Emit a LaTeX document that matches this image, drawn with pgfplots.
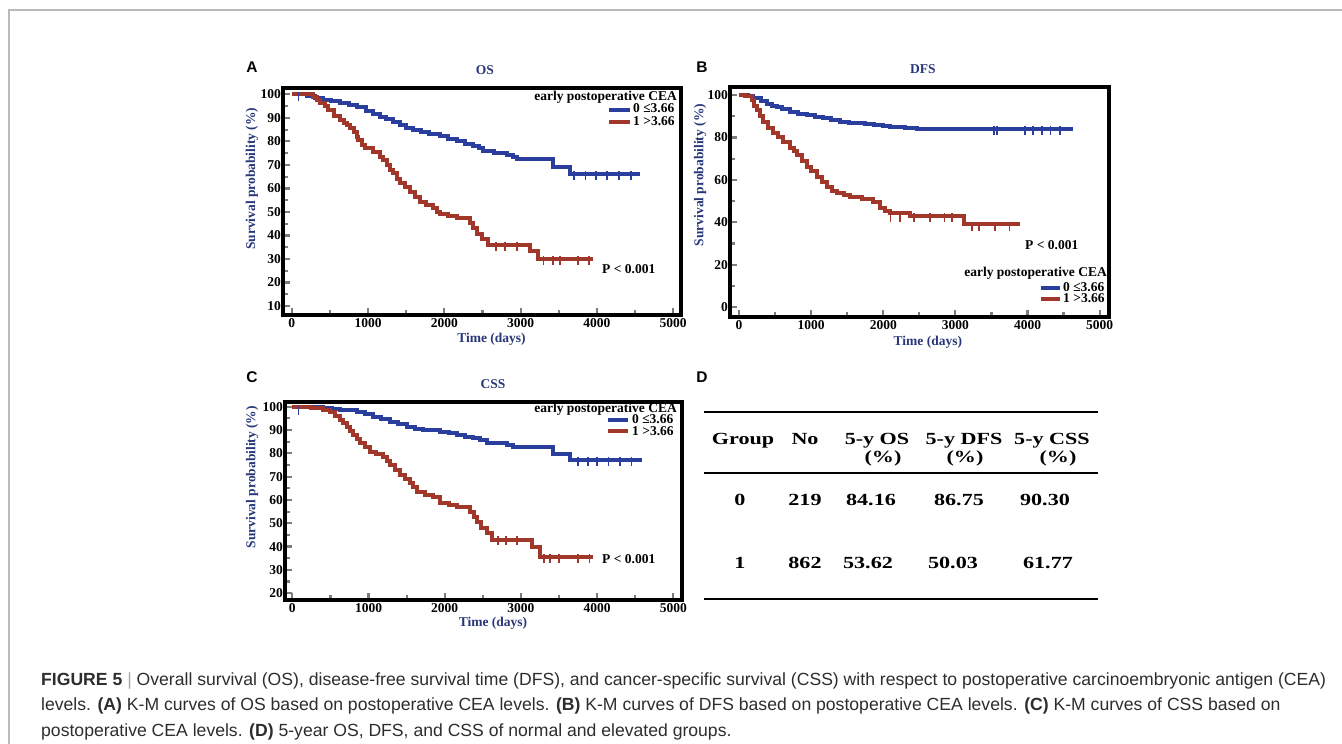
\documentclass[border=0pt]{standalone}
\usepackage{fontspec}
\setmainfont{Liberation Serif}
\newfontfamily\sansf{Liberation Sans}
\newfontfamily\tabf[FakeStretch=1.3]{Liberation Serif}
\usepackage{pgfplots}
\pgfplotsset{compat=1.18}
\definecolor{kmblue}{RGB}{42,62,158}
\definecolor{kmred}{RGB}{160,55,42}
\definecolor{navy}{RGB}{40,55,120}
\definecolor{tickgray}{RGB}{125,125,125}
\definecolor{capgray}{RGB}{45,45,45}
\pgfplotsset{kmaxis/.style={
  scale only axis, anchor=south west,
  axis line style={line width=3.5pt, black},
  tick align=inside, tick pos=left,
  major tick length=7pt, minor tick length=5pt,
  tick style={line width=2.2pt, tickgray},
  xtick={0,1000,...,5000}, minor x tick num=1,
  /pgf/number format/1000 sep={},
  /pgf/number format/assume math mode=true,
  tick label style={font=\bfseries\fontsize{13.5}{15}\selectfont, black},
  yticklabel style={xshift=1.5pt},
  title style={font=\bfseries\fontsize{13.5}{15}\selectfont, color=navy, anchor=center},
  label style={font=\bfseries\fontsize{13.5}{15}\selectfont, color=navy},
  xlabel={Time (days)},
  ylabel={Survival probability (\%)},
},
km/.style={line width=4pt, const plot, mark=none},
cens/.style={only marks, mark=|, mark size=4.5pt, mark options={line width=1.8pt}},
}
\begin{document}
\begin{tikzpicture}
\useasboundingbox (0pt,0pt) rectangle (1342pt,744pt);
\draw[gray!55, line width=1.8pt] (9.3pt,0pt) -- (9.3pt,734pt) -- (1342pt,734pt);

% ---------------- Panel A: OS
\begin{axis}[kmaxis, at={(283pt,429pt)}, width=398pt, height=227pt,
  xmin=-114, xmax=5102, ymin=6.2, ymax=102.7,
  ytick={10,20,...,100}, minor y tick num=1,
  title={OS}, title style={at={(axis description cs:0.507,1)}, yshift=12pt},
  xlabel style={at={(axis description cs:0.524,0)}, anchor=center, yshift=-24pt},
  ylabel style={at={(axis description cs:-0.078,0.60)}, anchor=center}]
\addplot[km, kmblue] coordinates {(0,100) (200,99.5) (300,98.5) (415,97.5) (520,97) (630,96.2) (750,95.5) (850,94.5) (980,92.8) (1060,91.8) (1157,90.5) (1240,89.5) (1330,88.4) (1420,87) (1500,85.8) (1590,84.8) (1700,84) (1800,83.2) (1940,82.2) (2050,81) (2160,80) (2270,79) (2380,78) (2460,77) (2510,75.8) (2650,75.2) (2817,74.3) (2900,73.2) (2950,72.4) (3430,69.3) (3650,66) (4565,66)};
\addplot[km, kmred] coordinates {(0,100) (280,99) (330,97.5) (370,96.5) (430,95) (480,93.3) (560,91) (630,89.1) (680,88) (720,87) (770,85.5) (810,84.1) (850,82) (873,80.6) (920,78.5) (960,77) (1070,75.6) (1157,73.5) (1200,72) (1245,70) (1290,68) (1330,66.4) (1380,64) (1420,62.2) (1480,60.5) (1550,58.6) (1620,56.5) (1680,54.4) (1760,53) (1855,51.5) (1900,50) (1943,49.1) (2050,48.2) (2160,47.3) (2335,45.2) (2380,43) (2424,40.5) (2500,38.5) (2577,36) (3122,33.5) (3231,30) (3952,30)};
\addplot[cens, kmblue] coordinates {(90,99) (3700,65.5) (3850,65.5) (3990,65.5) (4130,65.5) (4290,65.5) (4450,65.5)};
\addplot[cens, kmred] coordinates {(2680,35.5) (2800,35.5) (2950,35.5) (3300,29.5) (3420,29.5) (3520,29.5) (3750,29.5) (3900,29.5)};
\end{axis}
\draw[kmblue, line width=3.5pt] (609pt,634pt) -- (630pt,634pt);
\draw[kmred, line width=3.5pt] (609pt,622pt) -- (630pt,622pt);
\node[anchor=base east, inner sep=0pt, font=\bfseries\fontsize{13.5}{15}\selectfont] at (677pt,643pt) {early postoperative CEA};
\node[anchor=base west, inner sep=0pt, font=\bfseries\fontsize{13.5}{15}\selectfont] at (633pt,631.5pt) {0 ≤3.66};
\node[anchor=base west, inner sep=0pt, font=\bfseries\fontsize{13.5}{15}\selectfont] at (633pt,618.5pt) {1 >3.66};
\node[anchor=base west, inner sep=0pt, font=\bfseries\fontsize{13.5}{15}\selectfont] at (602pt,470.5pt) {P < 0.001};
\node[anchor=base, inner sep=0pt, font=\sansf\bfseries\fontsize{15.5}{17}\selectfont] at (252pt,671pt) {A};

% ---------------- Panel B: DFS
\begin{axis}[kmaxis, at={(730pt,427pt)}, width=379pt, height=230pt,
  xmin=-125, xmax=5130, ymin=-4.6, ymax=103.8,
  ytick={0,20,...,100}, minor y tick num=1,
  title={DFS}, title style={at={(axis description cs:0.509,1)}, yshift=12pt},
  xlabel style={at={(axis description cs:0.522,0)}, anchor=center, yshift=-25pt},
  ylabel style={at={(axis description cs:-0.079,0.617)}, anchor=center}]
\addplot[km, kmblue] coordinates {(0,100) (120,99.5) (200,98.5) (300,97) (384,96) (460,95) (520,94.5) (600,93.5) (708,92.1) (820,91.2) (940,90.6) (1050,89.8) (1170,89) (1280,88.2) (1400,87.4) (1520,87) (1630,86.7) (1750,86.2) (1865,85.9) (2000,85.4) (2095,85.1) (2300,84.4) (2465,84) (4630,84)};
\addplot[km, kmred] coordinates {(0,100) (83,99.5) (175,97.6) (210,95) (245,92.9) (290,90) (338,87.4) (400,84.5) (476,81.9) (540,80) (615,78) (708,74.9) (760,73.5) (800,71.7) (870,69) (940,66.2) (1000,64) (1078,61.5) (1150,59) (1216,56.8) (1290,55) (1355,53.7) (1450,52.8) (1540,52.1) (1700,51) (1864,49.8) (1956,46.6) (2030,45.2) (2095,44.3) (2373,43) (3113,39) (3890,39)};
\addplot[cens, kmblue] coordinates {(3530,83.5) (3580,83.5) (3960,83.5) (4080,83.5) (4200,83.5) (4320,83.5) (4450,83.5)};
\addplot[cens, kmred] coordinates {(2100,42.5) (2230,42.5) (2430,42.5) (2650,42.5) (2850,42.5) (2950,42.5) (3230,38) (3330,38) (3550,38) (3750,38)};
\end{axis}
\draw[kmblue, line width=3.5pt] (1041pt,456pt) -- (1060pt,456pt);
\draw[kmred, line width=3.5pt] (1041pt,445pt) -- (1060pt,445pt);
\node[anchor=base east, inner sep=0pt, font=\bfseries\fontsize{13.5}{15}\selectfont] at (1107pt,467pt) {early postoperative CEA};
\node[anchor=base west, inner sep=0pt, font=\bfseries\fontsize{13.5}{15}\selectfont] at (1063pt,452.5pt) {0 ≤3.66};
\node[anchor=base west, inner sep=0pt, font=\bfseries\fontsize{13.5}{15}\selectfont] at (1063pt,441.5pt) {1 >3.66};
\node[anchor=base west, inner sep=0pt, font=\bfseries\fontsize{13.5}{15}\selectfont] at (1025pt,494.5pt) {P < 0.001};
\node[anchor=base, inner sep=0pt, font=\sansf\bfseries\fontsize{15.5}{17}\selectfont] at (702pt,671pt) {B};

% ---------------- Panel C: CSS
\begin{axis}[kmaxis, at={(285pt,144pt)}, width=397pt, height=198pt,
  xmin=-96, xmax=5114, ymin=17.1, ymax=102,
  ytick={20,30,...,100}, minor y tick num=1,
  title={CSS}, title style={at={(axis description cs:0.524,1)}, yshift=12pt},
  xlabel style={at={(axis description cs:0.524,0)}, anchor=center, yshift=-23pt},
  ylabel style={at={(axis description cs:-0.083,0.62)}, anchor=center}]
\addplot[km, kmblue] coordinates {(0,100) (400,99.5) (520,99) (625,98.6) (844,97.9) (950,96.8) (1063,95.7) (1170,94.6) (1282,93.6) (1390,92.5) (1500,91.4) (1610,90.5) (1719,90) (1938,89.3) (2050,88.5) (2156,87.9) (2270,87) (2375,86.4) (2460,85.5) (2550,84.5) (2812,83.6) (2900,82.5) (3425,79.5) (3643,77) (4584,77)};
\addplot[km, kmred] coordinates {(0,100) (250,99.5) (407,98.5) (494,97.5) (560,96) (625,94.3) (670,93) (713,91.4) (760,89.5) (800,87.9) (850,86) (888,84.3) (950,82.5) (1019,80.7) (1100,79.8) (1194,78.3) (1240,76.5) (1282,75) (1350,72.8) (1413,70.7) (1480,69) (1544,67.1) (1590,65.5) (1632,63.6) (1740,62.2) (1850,61.4) (1938,58.6) (2050,57.8) (2156,57.1) (2331,55) (2380,52.5) (2419,50.7) (2480,48) (2550,45.7) (2616,43) (3140,40) (3250,35.5) (3950,35.5)};
\addplot[cens, kmblue] coordinates {(80,98.5) (3750,76.5) (3880,76.5) (4000,76.5) (4150,76.5) (4300,76.5) (4450,76.5)};
\addplot[cens, kmred] coordinates {(2700,42.5) (2800,42.5) (2950,42.5) (3300,35) (3380,35) (3500,35) (3750,35) (3900,35)};
\end{axis}
\draw[kmblue, line width=3.5pt] (608pt,324pt) -- (628pt,324pt);
\draw[kmred, line width=3.5pt] (608pt,313pt) -- (628pt,313pt);
\node[anchor=base east, inner sep=0pt, font=\bfseries\fontsize{13.5}{15}\selectfont] at (677pt,331pt) {early postoperative CEA};
\node[anchor=base west, inner sep=0pt, font=\bfseries\fontsize{13.5}{15}\selectfont] at (632pt,320pt) {0 ≤3.66};
\node[anchor=base west, inner sep=0pt, font=\bfseries\fontsize{13.5}{15}\selectfont] at (632pt,308.5pt) {1 >3.66};
\node[anchor=base west, inner sep=0pt, font=\bfseries\fontsize{13.5}{15}\selectfont] at (602pt,180.5pt) {P < 0.001};
\node[anchor=base, inner sep=0pt, font=\sansf\bfseries\fontsize{15.5}{17}\selectfont] at (252pt,361pt) {C};

% ---------------- Panel D: table
\node[anchor=base, inner sep=0pt, font=\sansf\bfseries\fontsize{15.5}{17}\selectfont] at (702pt,361pt) {D};
\draw[black, line width=2.2pt] (704pt,332pt) -- (1098pt,332pt);
\draw[black, line width=2.2pt] (704pt,271pt) -- (1098pt,271pt);
\draw[black, line width=2.2pt] (704pt,145pt) -- (1098pt,145pt);
\begin{scope}[every node/.style={anchor=base, inner sep=0pt, font=\tabf\bfseries\fontsize{17}{19}\selectfont}]
\node at (743pt,299pt) {Group};
\node at (805pt,299pt) {No};
\node at (877pt,299pt) {5-y OS};
\node at (964pt,299pt) {5-y DFS};
\node at (1052pt,299pt) {5-y CSS};
\node at (883pt,281pt) {(\%)};
\node at (965pt,281pt) {(\%)};
\node at (1058pt,281pt) {(\%)};
\node at (740pt,238pt) {0};
\node at (805pt,238pt) {219};
\node at (871pt,238pt) {84.16};
\node at (959pt,238pt) {86.75};
\node at (1045pt,238pt) {90.30};
\node at (740pt,175pt) {1};
\node at (805pt,175pt) {862};
\node at (868pt,175pt) {53.62};
\node at (953pt,175pt) {50.03};
\node at (1048pt,175pt) {61.77};
\end{scope}

% ---------------- Caption
\begin{scope}[every node/.style={anchor=base west, inner sep=0pt, text=capgray, font=\sansf\fontsize{17.6}{19}\selectfont}]
\node at (41pt,58pt) {\textbf{FIGURE 5} {\color{gray!70}|} Overall survival (OS), disease-free survival time (DFS), and cancer-specific survival (CSS) with respect to postoperative carcinoembryonic antigen (CEA)};
\node at (41pt,33pt) {levels. \textbf{(A)} K-M curves of OS based on postoperative CEA levels. \textbf{(B)} K-M curves of DFS based on postoperative CEA levels. \textbf{(C)} K-M curves of CSS based on};
\node at (41pt,7pt) {postoperative CEA levels. \textbf{(D)} 5-year OS, DFS, and CSS of normal and elevated groups.};
\end{scope}
\end{tikzpicture}
\end{document}
